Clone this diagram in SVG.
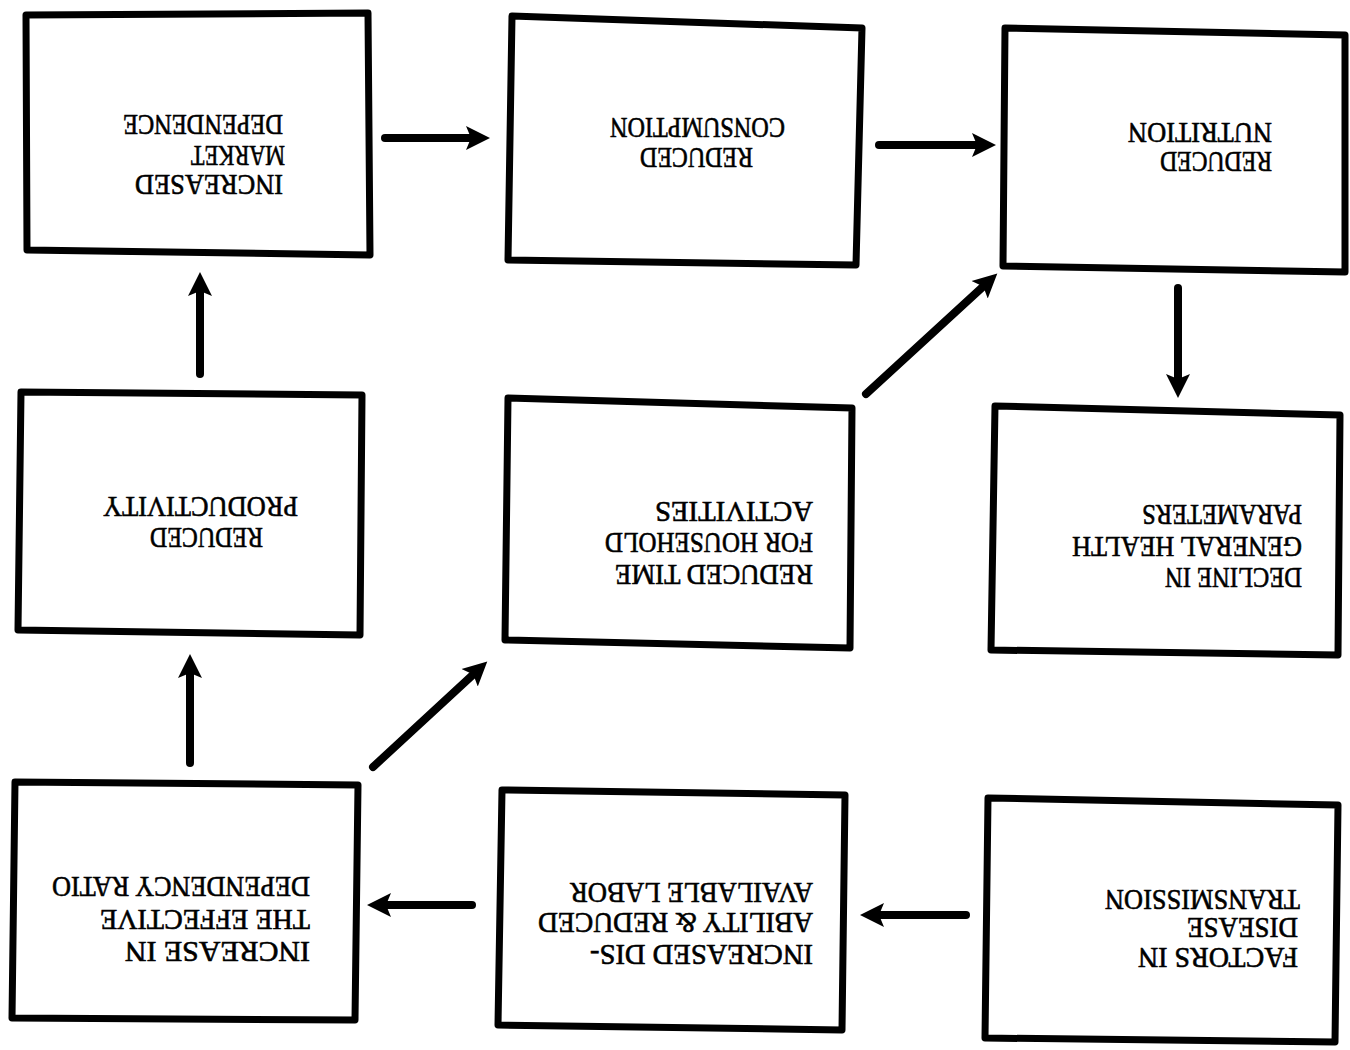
<svg xmlns="http://www.w3.org/2000/svg" width="1350" height="1050" viewBox="0 0 1350 1050">
<style>
.box{fill:#fff;stroke:#000;stroke-width:7;stroke-linejoin:round}
.t{font-family:"Liberation Serif","Times New Roman",serif;font-size:29px;fill:#000;stroke:#000;stroke-width:0.6}
.c{stroke:#000;stroke-width:8;stroke-linecap:round;fill:none}
</style>
<defs>
<marker id="ah" markerUnits="userSpaceOnUse" viewBox="0 0 26 26" markerWidth="26" markerHeight="26" refX="10" refY="13" orient="auto">
<path d="M0,1 L24,13 L0,25 L5,13 z" fill="#000"/>
</marker>
</defs>
<rect width="1350" height="1050" fill="#fff"/>
<g id="n1">
<polygon class="box" points="26,15 368,13 370,255 27,250"/>
<text class="t" transform="translate(283,175) rotate(180)" textLength="148" lengthAdjust="spacingAndGlyphs">INCREASED</text>
<text class="t" transform="translate(285,146) rotate(180)" textLength="94" lengthAdjust="spacingAndGlyphs">MARKET</text>
<text class="t" transform="translate(283,115) rotate(180)" textLength="160" lengthAdjust="spacingAndGlyphs">DEPENDENCE</text>
</g>
<g id="n2">
<polygon class="box" points="512,16 862,28 856,265 508,260"/>
<text class="t" transform="translate(753,148) rotate(180)" textLength="113" lengthAdjust="spacingAndGlyphs">REDUCED</text>
<text class="t" transform="translate(785,118) rotate(180)" textLength="175" lengthAdjust="spacingAndGlyphs">CONSUMPTION</text>
</g>
<g id="n3">
<polygon class="box" points="1005,28 1345,35 1345,272 1003,266"/>
<text class="t" transform="translate(1272,152) rotate(180)" textLength="112" lengthAdjust="spacingAndGlyphs">REDUCED</text>
<text class="t" transform="translate(1272,123) rotate(180)" textLength="144" lengthAdjust="spacingAndGlyphs">NUTRITION</text>
</g>
<g id="n4">
<polygon class="box" points="21,392 362,395 360,635 18,630"/>
<text class="t" transform="translate(263,528) rotate(180)" textLength="113" lengthAdjust="spacingAndGlyphs">REDUCED</text>
<text class="t" transform="translate(298,497) rotate(180)" textLength="195" lengthAdjust="spacingAndGlyphs">PRODUCTIVITY</text>
</g>
<g id="n5">
<polygon class="box" points="508,398 852,408 850,648 505,640"/>
<text class="t" transform="translate(813,565) rotate(180)" textLength="198" lengthAdjust="spacingAndGlyphs">REDUCED TIME</text>
<text class="t" transform="translate(813,533) rotate(180)" textLength="208" lengthAdjust="spacingAndGlyphs">FOR HOUSEHOLD</text>
<text class="t" transform="translate(813,502) rotate(180)" textLength="158" lengthAdjust="spacingAndGlyphs">ACTIVITIES</text>
</g>
<g id="n6">
<polygon class="box" points="995,406 1340,415 1338,655 991,650"/>
<text class="t" transform="translate(1302,568) rotate(180)" textLength="137" lengthAdjust="spacingAndGlyphs">DECLINE IN</text>
<text class="t" transform="translate(1302,537) rotate(180)" textLength="230" lengthAdjust="spacingAndGlyphs">GENERAL HEALTH</text>
<text class="t" transform="translate(1302,505) rotate(180)" textLength="160" lengthAdjust="spacingAndGlyphs">PARAMETERS</text>
</g>
<g id="n7">
<polygon class="box" points="15,782 358,785 355,1020 12,1018"/>
<text class="t" transform="translate(310,942) rotate(180)" textLength="185" lengthAdjust="spacingAndGlyphs">INCREASE IN</text>
<text class="t" transform="translate(310,910) rotate(180)" textLength="210" lengthAdjust="spacingAndGlyphs">THE EFFECTIVE</text>
<text class="t" transform="translate(310,877) rotate(180)" textLength="258" lengthAdjust="spacingAndGlyphs">DEPENDENCY RATIO</text>
</g>
<g id="n8">
<polygon class="box" points="502,790 845,795 842,1030 498,1025"/>
<text class="t" transform="translate(813,945) rotate(180)" textLength="223" lengthAdjust="spacingAndGlyphs">INCREASED DIS-</text>
<text class="t" transform="translate(813,913) rotate(180)" textLength="275" lengthAdjust="spacingAndGlyphs">ABILITY &amp; REDUCED</text>
<text class="t" transform="translate(813,883) rotate(180)" textLength="243" lengthAdjust="spacingAndGlyphs">AVAILABLE LABOR</text>
</g>
<g id="n9">
<polygon class="box" points="988,798 1338,805 1335,1042 985,1038"/>
<text class="t" transform="translate(1298,948) rotate(180)" textLength="160" lengthAdjust="spacingAndGlyphs">FACTORS IN</text>
<text class="t" transform="translate(1298,918) rotate(180)" textLength="111" lengthAdjust="spacingAndGlyphs">DISEASE</text>
<text class="t" transform="translate(1300,890) rotate(180)" textLength="195" lengthAdjust="spacingAndGlyphs">TRANSMISSION</text>
</g>
<g id="connectors">
<line class="c" x1="385" y1="138" x2="476" y2="138" marker-end="url(#ah)"/>
<line class="c" x1="879" y1="145" x2="982" y2="145" marker-end="url(#ah)"/>
<line class="c" x1="200" y1="374" x2="200" y2="286" marker-end="url(#ah)"/>
<line class="c" x1="1178" y1="288" x2="1178" y2="384" marker-end="url(#ah)"/>
<line class="c" x1="866" y1="394" x2="987" y2="283" marker-end="url(#ah)"/>
<line class="c" x1="190" y1="763" x2="190" y2="668" marker-end="url(#ah)"/>
<line class="c" x1="373" y1="767" x2="477" y2="671" marker-end="url(#ah)"/>
<line class="c" x1="966" y1="915" x2="874" y2="915" marker-end="url(#ah)"/>
<line class="c" x1="472" y1="905" x2="381" y2="905" marker-end="url(#ah)"/>
</g>
</svg>
